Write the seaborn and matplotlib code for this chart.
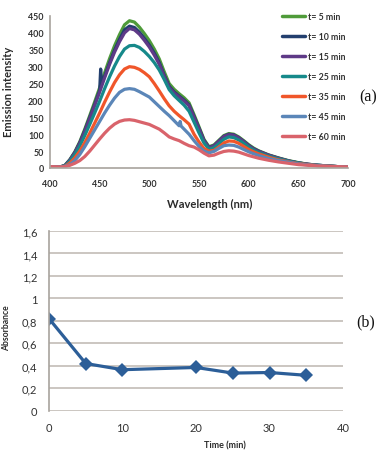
import numpy as np
import pandas as pd
import matplotlib
matplotlib.use("Agg")
import matplotlib.pyplot as plt
import seaborn as sns

# ---------------- data: panel (a) emission spectra ----------------
wl = [400, 410, 415] + list(range(420, 611, 5)) + list(range(620, 701, 10))

t5 = [4, 3, 8,
      25, 48, 78, 115, 155, 196, 238, 282, 324, 362, 395, 424, 436, 432, 417, 398, 377,
      352, 323, 285, 250, 233, 220, 208, 193, 158, 122, 85, 63, 68, 82, 96, 102, 100, 92,
      81, 69, 59, 51,
      39, 30, 22, 16, 11, 8, 6, 4, 3]

# t = 10 min has a narrow spike near 451 nm
wl_t10 = [400, 410, 415, 420, 425, 430, 435, 440, 445, 450, 451, 452, 455] + list(range(460, 611, 5)) + list(range(620, 701, 10))
t10 = [4, 3, 7,
       24, 46, 75, 111, 150, 189, 230, 293, 250, 272,
       312, 349, 381, 409, 420, 416, 402, 384, 364, 340, 312, 275, 242, 225, 213, 201,
       187, 153, 118, 82, 61, 66, 80, 94, 100, 98, 90, 79, 67, 57, 50,
       38, 29, 21, 15, 11, 8, 6, 4, 3]

t15 = [4, 3, 7,
       23, 45, 73, 108, 146, 185, 225, 267, 307, 343, 374, 400, 413, 409, 396, 378, 358,
       334, 307, 271, 238, 222, 210, 198, 184, 150, 116, 80, 60, 65, 79, 93, 99, 97, 89,
       78, 66, 56, 49,
       38, 29, 21, 15, 11, 8, 6, 4, 3]

t25 = [4, 3, 6,
       20, 40, 65, 96, 129, 163, 198, 235, 270, 302, 330, 352, 362, 363, 357, 345, 330,
       312, 290, 262, 232, 214, 200, 186, 168, 136, 104, 74, 56, 60, 72, 85, 92, 90, 83,
       73, 62, 53, 46,
       35, 27, 20, 15, 10, 8, 6, 4, 3]

t35 = [4, 3, 5,
       15, 30, 50, 75, 103, 133, 163, 195, 225, 253, 276, 293, 300, 298, 292, 282, 270,
       250, 228, 205, 184, 168, 155, 143, 130, 100, 77, 58, 50, 52, 62, 74, 80, 79, 73,
       64, 55, 48, 42,
       32, 24, 18, 13, 10, 7, 5, 4, 3]

# t = 45 min has a small bump near 531 nm
wl_t45 = [400, 410, 415] + list(range(420, 526, 5)) + [530, 531, 532] + list(range(535, 611, 5)) + list(range(620, 701, 10))
t45 = [4, 3, 5,
       10, 22, 40, 63, 88, 113, 138, 163, 186, 207, 224, 233, 235, 233, 226, 218, 210,
       196, 182, 168, 155, 140,
       125, 138, 124,
       115, 100, 81, 64, 50, 45, 49, 58, 66, 68, 67, 62, 55, 48, 42, 37,
       28, 22, 17, 12, 9, 7, 5, 4, 3]

t60 = [4, 3, 4,
       8, 14, 22, 34, 50, 68, 86, 103, 118, 130, 138, 142, 143, 141, 137, 133, 129,
       122, 115, 104, 92, 86, 81, 73, 66, 62, 54, 44, 36, 38, 44, 49, 51, 50, 47,
       42, 37, 33, 29,
       23, 18, 14, 10, 8, 6, 5, 4, 3]

series_labels = ["t= 5 min", "t= 10 min", "t= 15 min", "t= 25 min",
                 "t= 35 min", "t= 45 min", "t= 60 min"]
series_wl = [wl, wl_t10, wl, wl, wl, wl_t45, wl]
series_val = [t5, t10, t15, t25, t35, t45, t60]
palette = ["#4f9b3a", "#233f6e", "#5e3a87", "#16898a", "#f0562a", "#5b86b8", "#d9636b"]

x_ticks_a = [400, 450, 500, 550, 600, 650, 700]
y_ticks_a = [0, 50, 100, 150, 200, 250, 300, 350, 400, 450]

# ---------------- data: panel (b) absorbance ----------------
time_min = [0, 5, 10, 20, 25, 30, 35]
absorbance = [0.82, 0.42, 0.365, 0.385, 0.335, 0.34, 0.315]
x_ticks_b = [0, 10, 20, 30, 40]
y_ticks_b = [0, 0.2, 0.4, 0.6, 0.8, 1.0, 1.2, 1.4, 1.6]
y_ticklabels_b = ["0", "0,2", "0,4", "0,6", "0,8", "1", "1,2", "1,4", "1,6"]

# ---------------- build frames ----------------
frames = []
for lab, w, v in zip(series_labels, series_wl, series_val):
    frames.append(pd.DataFrame({"Wavelength": w, "Intensity": v, "series": lab}))
df_a = pd.concat(frames, ignore_index=True)
df_b = pd.DataFrame({"Time": time_min, "Absorbance": absorbance})

sns.set_style("white")
plt.rcParams["font.family"] = ["Lato", "DejaVu Sans"]

W, H = 383, 452
fig = plt.figure(figsize=(W / 100, H / 100), dpi=100)

def ax_rect(l, t, r, b):
    return [l / W, 1 - b / H, (r - l) / W, (b - t) / H]

text_col = "#333333"
axis_col = "#a8a39d"

# ---------- panel (a) ----------
ax1 = fig.add_axes(ax_rect(50, 17, 348, 169))
sns.lineplot(data=df_a, x="Wavelength", y="Intensity", hue="series",
             hue_order=series_labels, palette=palette, linewidth=2.3,
             sort=True, estimator=None, ax=ax1)
ax1.set_xlim(400, 700)
ax1.set_ylim(0, 450)
ax1.set_xticks(x_ticks_a)
ax1.set_yticks(y_ticks_a)
ax1.tick_params(axis="both", length=0, labelsize=6.4, colors=text_col)
ax1.tick_params(axis="x", pad=8)
ax1.tick_params(axis="y", pad=4.5)
for lbl in ax1.get_xticklabels() + ax1.get_yticklabels():
    lbl.set_fontweight("bold")
for s in ["top", "right"]:
    ax1.spines[s].set_visible(False)
for s in ["left", "bottom"]:
    ax1.spines[s].set_color(axis_col)
    ax1.spines[s].set_linewidth(1.2)
ax1.set_xlabel("Wavelength (nm)", fontsize=8, fontweight="bold", color="#2b2b2b")
ax1.set_ylabel("Emission intensity", fontsize=8, fontweight="bold", color="#2b2b2b")
ax1.xaxis.set_label_coords(0.537, -0.2)
ax1.yaxis.set_label_coords(-0.122, 0.507)

leg = ax1.legend(loc="upper left", bbox_to_anchor=(276 / W, 1 - 7 / H),
                 bbox_transform=fig.transFigure, frameon=False,
                 fontsize=6.3, handlelength=2.6, handletextpad=0.3,
                 labelspacing=1.25, borderpad=0.2)
for t in leg.get_texts():
    t.set_fontweight("bold")
    t.set_color(text_col)
for line in leg.get_lines():
    line.set_linewidth(2.5)

fig.text(368 / W, 1 - 97 / H, "(a)", fontsize=11.5, family="Liberation Serif",
         ha="center", va="center", color="#111111")

# ---------- panel (b) ----------
ax2 = fig.add_axes(ax_rect(49, 232, 343, 411.7))
sns.lineplot(data=df_b, x="Time", y="Absorbance", color="#2c5e98",
             linewidth=2.3, marker="D", markersize=7.5, markeredgewidth=0, ax=ax2)
ax2.set_xlim(0, 40)
ax2.set_ylim(0, 1.6)
ax2.set_xticks(x_ticks_b)
ax2.set_yticks(y_ticks_b)
ax2.set_yticklabels(y_ticklabels_b)
ax2.yaxis.grid(True, color="#bdb7b0", linewidth=1.1)
ax2.xaxis.grid(False)
ax2.set_axisbelow(True)
ax2.tick_params(axis="both", length=0, labelsize=8, colors=text_col)
ax2.tick_params(axis="x", pad=8)
ax2.tick_params(axis="y", pad=8.5)
for s in ["top", "right", "bottom"]:
    ax2.spines[s].set_visible(False)
ax2.spines["left"].set_color(axis_col)
ax2.spines["left"].set_linewidth(1.2)
ax2.set_xlabel("Time (min)", fontsize=6.5, fontweight="bold", color="#2b2b2b")
ax2.set_ylabel("Absorbance", fontsize=6.2, fontweight="bold", color="#2b2b2b")
ax2.xaxis.set_label_coords(0.599, -0.165)
ax2.yaxis.set_label_coords(-0.128, 0.466)

fig.text(366 / W, 1 - 322 / H, "(b)", fontsize=11.5, family="Liberation Serif",
         ha="center", va="center", color="#111111")

fig.savefig("out.png", dpi=100)
